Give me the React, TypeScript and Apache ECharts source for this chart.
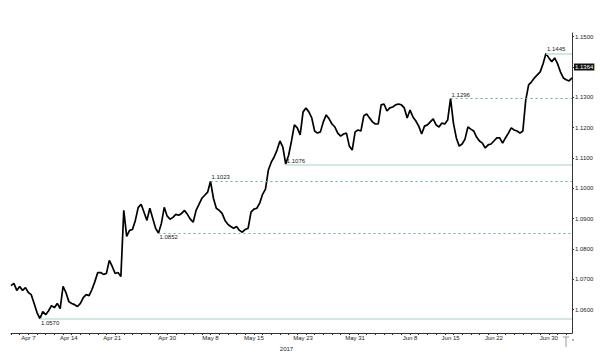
import React, { useEffect, useRef } from "react";
import * as echarts from "echarts";

// EUR/USD-style closing rates, three sessions per trading day (Apr → Jul 2017)
const rates = [
  1.0679, 1.0686, 1.0663, 1.0676, 1.0663, 1.0672, 1.0656, 1.0649, 1.0620, 1.0590,
  1.0570, 1.0593, 1.0583, 1.0596, 1.0613, 1.0606, 1.0620, 1.0603, 1.0676, 1.0656,
  1.0626, 1.0620, 1.0616, 1.0610, 1.0620, 1.0639, 1.0649, 1.0646, 1.0666, 1.0692,
  1.0722, 1.0722, 1.0716, 1.0719, 1.0762, 1.0742, 1.0719, 1.0722, 1.0709, 1.0927,
  1.0841, 1.0861, 1.0864, 1.0894, 1.0937, 1.0947, 1.0921, 1.0894, 1.0934, 1.0901,
  1.0868, 1.0852, 1.0884, 1.0937, 1.0908, 1.0898, 1.0904, 1.0914, 1.0911, 1.0917,
  1.0927, 1.0914, 1.0898, 1.0888, 1.0927, 1.0947, 1.0967, 1.0977, 1.0987, 1.1023,
  1.0967, 1.0934, 1.0927, 1.0917, 1.0894, 1.0881, 1.0874, 1.0868, 1.0874, 1.0861,
  1.0855, 1.0864, 1.0868, 1.0921, 1.0931, 1.0934, 1.0951, 1.0980, 1.0997, 1.1060,
  1.1086, 1.1103, 1.1126, 1.1156, 1.1136, 1.1080, 1.1109, 1.1156, 1.1209, 1.1199,
  1.1176, 1.1252, 1.1265, 1.1252, 1.1232, 1.1189, 1.1182, 1.1186, 1.1219, 1.1242,
  1.1229, 1.1212, 1.1202, 1.1182, 1.1172, 1.1179, 1.1182, 1.1139, 1.1126, 1.1186,
  1.1192, 1.1189, 1.1239, 1.1245, 1.1232, 1.1219, 1.1212, 1.1212, 1.1275, 1.1278,
  1.1255, 1.1265, 1.1268, 1.1275, 1.1278, 1.1275, 1.1265, 1.1232, 1.1258, 1.1235,
  1.1222, 1.1205, 1.1179, 1.1205, 1.1209, 1.1219, 1.1229, 1.1209, 1.1202, 1.1215,
  1.1212, 1.1225, 1.1296, 1.1215, 1.1166, 1.1139, 1.1146, 1.1162, 1.1202, 1.1195,
  1.1189, 1.1169, 1.1156, 1.1149, 1.1133, 1.1143, 1.1146, 1.1156, 1.1166, 1.1166,
  1.1149, 1.1166, 1.1182, 1.1199, 1.1192, 1.1189, 1.1182, 1.1189, 1.1291, 1.1341,
  1.1351, 1.1364, 1.1374, 1.1384, 1.1411, 1.1445, 1.1430, 1.1417, 1.1430, 1.1411,
  1.1384, 1.1364, 1.1358, 1.1354, 1.1364,
];

const tickLabels = ["Apr 7", "Apr 14", "Apr 21", "Apr 30", "May 8", "May 15", "May 23", "May 31", "Jun 8", "Jun 15", "Jun 22", "Jun 30"];
const tickSessions = [6, 20, 35, 54, 69, 84, 101, 119, 138, 152, 167, 186];

const levelValues = [1.057, 1.0852, 1.1023, 1.1076, 1.1296, 1.1445];
const levelStarts = [10, 51, 69, 95, 152, 185];
const solidLevels = [1.057, 1.1076, 1.1445];
const labelBelowLevels = [1.057, 1.0852];

const yearLabel = "2017";

export default function App() {
  const ref = useRef<HTMLDivElement>(null);

  useEffect(() => {
    if (!ref.current) return;
    const chart = echarts.init(ref.current, null, { renderer: "svg" });
    const font = "Liberation Sans";
    const categories = rates.map((_, i) => String(i));
    const labelAt: Record<number, string> = {};
    tickSessions.forEach((s, k) => {
      labelAt[s] = tickLabels[k];
    });
    const last = rates.length - 1;

    const levelLines: any[] = levelValues.map((v, k) => {
      const solid = solidLevels.includes(v);
      const below = labelBelowLevels.includes(v);
      return [
        {
          coord: [levelStarts[k], v],
          lineStyle: solid
            ? { color: "#c2e2d7", width: 1.6, type: "solid" }
            : { color: "#5fb394", width: 1.2, type: [2, 3] },
          label: {
            show: true,
            position: below ? "insideStartBottom" : "insideStartTop",
            formatter: v.toFixed(4),
            color: "#222",
            fontSize: 6,
            fontFamily: font,
            distance: 1,
          },
        },
        { coord: [last, v] },
      ];
    });

    chart.setOption({
      animation: false,
      backgroundColor: "#fff",
      grid: { left: 11, right: 28, top: 33, bottom: 27, containLabel: false },
      xAxis: {
        type: "category",
        data: categories,
        boundaryGap: false,
        name: yearLabel,
        nameLocation: "middle",
        nameGap: 11,
        nameTextStyle: { fontSize: 6, fontFamily: font, color: "#222", padding: [0, 10, 0, 0] },
        axisLine: { onZero: false, lineStyle: { color: "#333", width: 1 } },
        axisTick: {
          interval: (i: number) => i % 3 === 0,
          length: 2,
          lineStyle: { color: "#333" },
        },
        axisLabel: {
          interval: (i: number) => labelAt[i] !== undefined,
          formatter: (_v: string, i: number) => labelAt[i] ?? "",
          fontSize: 6,
          fontFamily: font,
          color: "#222",
          margin: 2,
        },
        splitLine: { show: false },
      },
      yAxis: {
        type: "value",
        position: "right",
        min: 1.05225,
        max: 1.15122,
        splitNumber: 10,
        scale: true,
        axisLine: { show: true, lineStyle: { color: "#333", width: 1 } },
        axisTick: { show: true, length: 2, lineStyle: { color: "#333" } },
        axisLabel: {
          showMinLabel: false,
          showMaxLabel: false,
          formatter: (v: number) => v.toFixed(4),
          fontSize: 6,
          fontFamily: font,
          color: "#222",
          margin: 3,
        },
        splitLine: { show: false },
      },
      series: [
        {
          type: "line",
          data: rates,
          showSymbol: false,
          symbol: "none",
          clip: false,
          lineStyle: { color: "#000", width: 1.7 },
          markLine: {
            silent: true,
            symbol: ["none", "none"],
            data: levelLines,
          },
        },
        {
          type: "line",
          data: [],
          markLine: {
            silent: true,
            symbol: ["none", "none"],
            lineStyle: { color: "transparent", width: 0 },
            data: [
              {
                yAxis: rates[last],
                label: {
                  show: true,
                  position: "end",
                  formatter: rates[last].toFixed(4),
                  color: "#fff",
                  backgroundColor: "#111",
                  padding: [1, 1, 0, 1],
                  fontSize: 6,
                  fontFamily: font,
                  distance: 2,
                },
              },
            ],
          },
        },
      ],
      graphic: [
        {
          type: "group",
          children: [
            { type: "line", shape: { x1: 566, y1: 337, x2: 566, y2: 347 }, style: { stroke: "#999", lineWidth: 1 } },
            { type: "line", shape: { x1: 563, y1: 337, x2: 569, y2: 337 }, style: { stroke: "#999", lineWidth: 1 } },
            { type: "line", shape: { x1: 572, y1: 340, x2: 574, y2: 340 }, style: { stroke: "#666", lineWidth: 1 } },
          ],
        },
      ],
    });

    return () => chart.dispose();
  }, []);

  return (
    <div
      ref={ref}
      style={{ position: "fixed", left: 0, top: 0, width: 600, height: 360, background: "#fff" }}
    />
  );
}
